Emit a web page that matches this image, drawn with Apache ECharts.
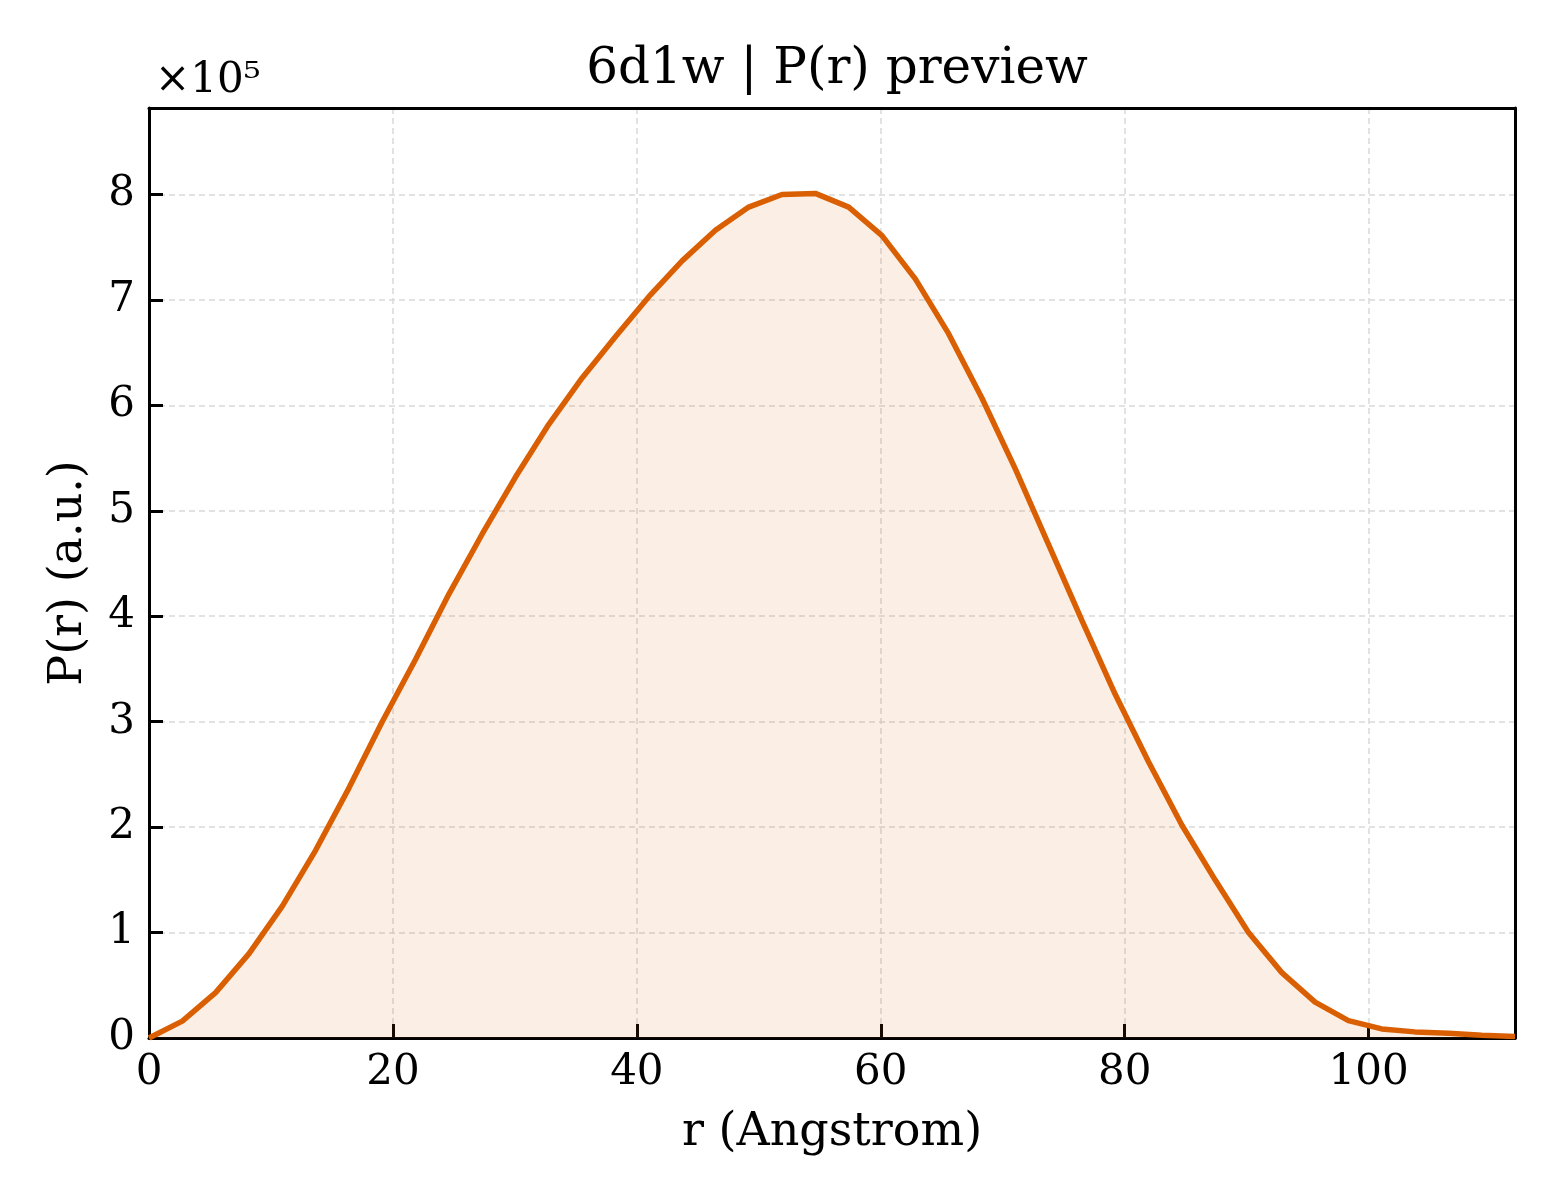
<!DOCTYPE html>
<html>
<head>
<meta charset="utf-8">
<script src="https://cdn.jsdelivr.net/npm/echarts@6/dist/echarts.min.js"></script>
<style>
  html, body { margin: 0; padding: 0; background: #fff; }
  #main { width: 1560px; height: 1200px; }
</style>
</head>
<body>
<div id="main"></div>
<script>
  // r (Angstrom) sample positions
  let rValues = [
    0, 2.73, 5.46, 8.2, 10.93, 13.66, 16.39, 19.12, 21.85, 24.59, 27.32,
    30.05, 32.78, 35.51, 38.24, 40.98, 43.71, 46.44, 49.17, 51.9, 54.63,
    57.37, 60.1, 62.83, 65.56, 68.29, 71.02, 73.76, 76.49, 79.22, 81.95,
    84.68, 87.41, 90.15, 92.88, 95.61, 98.34, 101.07, 103.8, 106.54, 109.27, 112.0,
  ];
  // P(r) (a.u.)
  let prValues = [
    0, 16000, 43000, 80000, 125000, 178000, 237000, 300000, 359000, 421000, 478000,
    532000, 582000, 626000, 665000, 703000, 737000, 766000, 788000, 800000, 801000,
    788000, 761000, 720000, 668000, 607000, 540000, 468000, 396000, 326000, 262000,
    202000, 150000, 100000, 62000, 34000, 16500, 8600, 5800, 4500, 2500, 1500,
  ];
  let xTicks = { min: 0, max: 112, interval: 20 };
  let yTicks = { min: 0, max: 882000, interval: 100000 };

  let font = 'DejaVu Serif';
  let myChart = echarts.init(document.getElementById('main'));

  let frameAxis = {
    axisLine: { show: true, onZero: false, lineStyle: { color: '#000', width: 3 } },
    axisTick: { show: false },
    axisLabel: { show: false },
    splitLine: { show: false },
  };

  let option = {
    backgroundColor: '#fff',
    animation: false,
    title: [
      {
        text: '6d1w | P(r) preview',
        left: 832,
        textAlign: 'center',
        top: 40,
        textStyle: { fontFamily: font, fontSize: 50, fontWeight: 'normal', color: '#000' },
      },
      {
        text: '×10⁵',
        left: 150,
        top: 55,
        textStyle: { fontFamily: font, fontSize: 42, fontWeight: 'normal', color: '#000' },
      },
    ],
    grid: {
      left: 149,
      right: 45,
      top: 108,
      bottom: 162,
    },
    xAxis: [
      {
        type: 'value',
        min: xTicks.min,
        max: xTicks.max,
        interval: xTicks.interval,
        name: 'r (Angstrom)',
        nameLocation: 'middle',
        nameGap: 72,
        nameTextStyle: { fontFamily: font, fontSize: 46, color: '#000' },
        axisLine: { show: true, onZero: false, lineStyle: { color: '#000', width: 3 } },
        axisTick: { show: true, inside: true, length: 14, lineStyle: { color: '#000', width: 3 } },
        axisLabel: {
          fontFamily: font, fontSize: 42, color: '#000', margin: 14,
          showMaxLabel: false,
        },
        splitLine: { show: true, lineStyle: { color: '#d9d9d9', width: 1.5, type: [6, 4] } },
      },
      Object.assign({ type: 'value', position: 'top', min: xTicks.min, max: xTicks.max }, frameAxis),
    ],
    yAxis: [
      {
        type: 'value',
        min: yTicks.min,
        max: yTicks.max,
        interval: yTicks.interval,
        name: 'P(r) (a.u.)',
        nameLocation: 'middle',
        nameGap: 57,
        nameTextStyle: { fontFamily: font, fontSize: 46, color: '#000' },
        axisLine: { show: true, onZero: false, lineStyle: { color: '#000', width: 3 } },
        axisTick: { show: true, inside: true, length: 14, lineStyle: { color: '#000', width: 3 } },
        axisLabel: {
          fontFamily: font, fontSize: 42, color: '#000', margin: 14,
          showMaxLabel: false,
          formatter: function (v) { return String(Math.round(v / 100000)); },
        },
        splitLine: { show: true, lineStyle: { color: '#d9d9d9', width: 1.5, type: [6, 4] } },
      },
      Object.assign({ type: 'value', position: 'right', min: yTicks.min, max: yTicks.max }, frameAxis),
    ],
    series: [
      {
        type: 'line',
        xAxisIndex: 0,
        yAxisIndex: 0,
        data: rValues.map(function (r, i) { return [r, prValues[i]]; }),
        showSymbol: false,
        smooth: false,
        lineStyle: { color: '#d95f02', width: 5.5 },
        itemStyle: { color: '#d95f02' },
        areaStyle: { color: 'rgba(217,95,2,0.15)', origin: 'start' },
        clip: true,
      },
    ],
  };

  myChart.setOption(option);
</script>
</body>
</html>
